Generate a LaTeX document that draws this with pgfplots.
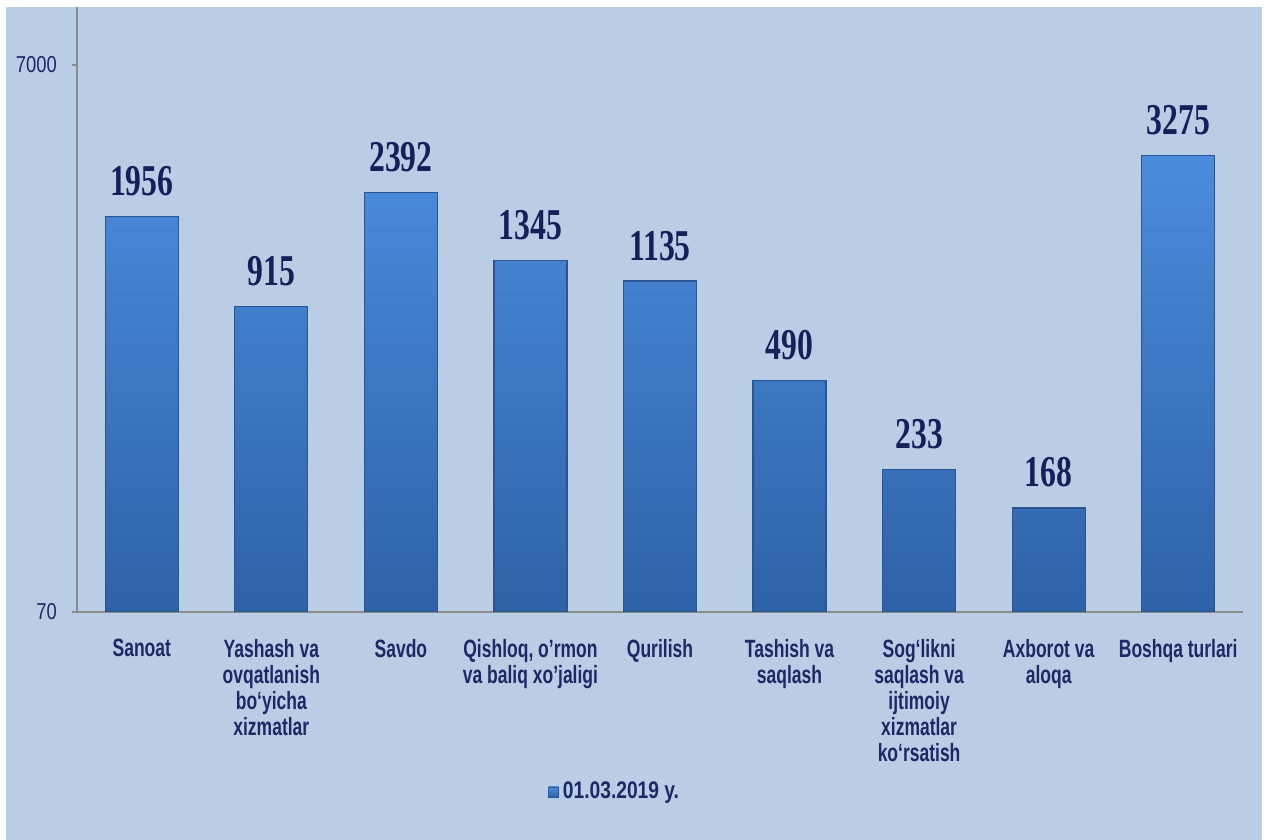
\documentclass[border=0pt]{standalone}
\usepackage{pgfplots}
\pgfplotsset{compat=1.18}
\usepackage{fontspec}
\setmainfont{Liberation Sans}
\newfontfamily\narrow[FakeStretch=0.8]{Liberation Sans}
\newfontfamily\xlabfont[FakeStretch=0.7]{Liberation Sans}
\newfontfamily\valfont[FakeStretch=0.72]{Liberation Serif}
\definecolor{bgblue}{HTML}{B9CDE4}
\definecolor{navy}{HTML}{1B2A66}
\definecolor{valnavy}{HTML}{14205A}
\definecolor{axgray}{HTML}{8C8C8C}
\definecolor{bartop}{HTML}{4A8CDC}
\definecolor{barbot}{HTML}{2E62A8}
\definecolor{baredge}{HTML}{2A5590}
\begin{document}
\begin{tikzpicture}
\useasboundingbox (-38.5pt,-114pt) rectangle (593.5pt,306pt);
\fill[white] (-38.5pt,-114pt) rectangle (593.5pt,306pt);
\fill[bgblue] (-35.5pt,-114pt) rectangle (592.5pt,302.5pt);
\begin{axis}[
  at={(0,0)}, anchor=south west, scale only axis,
  width=583pt, height=302.5pt,
  ymode=log, ymin=70, ymax=11400, log origin y=infty,
  xmin=-0.5, xmax=8.5,
  axis x line*=bottom, axis y line*=left,
  axis line style={draw=axgray, line width=0.8pt},
  tick align=outside,
  ytick={70,7000}, yticklabels={70,7000},
  yminorticks=false,
  major tick length=2.5pt,
  ytick style={draw=axgray, line width=0.6pt},
  yticklabel style={font=\narrow\fontsize{11.5}{13}\selectfont, text=navy, xshift=-4pt},
  xtick={0,...,8},
  xtick style={draw=none},
  minor xtick={-0.5,0.5,...,8.5},
  minor tick length=3.5pt,
  minor tick style={draw=axgray, line width=0.6pt},
  xticklabels={Sanoat,
    {Yashash va\\ovqatlanish\\bo‘yicha\\xizmatlar},
    Savdo,
    {Qishloq, o’rmon\\va baliq xo’jaligi},
    Qurilish,
    {Tashish va\\saqlash},
    {Sog‘likni\\saqlash va\\ijtimoiy\\xizmatlar\\ko‘rsatish},
    {Axborot va\\aloqa},
    Boshqa turlari},
  xticklabel style={align=center, font=\xlabfont\bfseries\fontsize{12.5}{13}\selectfont, text=navy, yshift=-7.5pt},
  point meta=explicit symbolic,
  nodes near coords={\pgfplotspointmeta},
  every node near coord/.append style={font=\valfont\bfseries\fontsize{22}{24}\selectfont, text=valnavy, anchor=south, inner sep=0pt, yshift=10pt},
  legend style={at={(0.462,0)}, anchor=center, yshift=-90pt, draw=none, fill=none,
    font=\narrow\bfseries\fontsize{12}{13}\selectfont, text=navy},
  legend image code/.code={\shade[top color=bartop, bottom color=barbot, draw=baredge, line width=0.3pt] (0pt,-2.5pt) rectangle (5pt,2.5pt);},
]
\addplot[ybar, bar width=36.5pt, bar shift=0pt, draw=baredge, line width=0.6pt,
  top color=bartop, bottom color=barbot]
coordinates {
(0,1956) [1956]
(1,915) [915]
(2,2392) [2392]
(3,1345) [1345]
(4,1135) [1135]
(5,490) [490]
(6,233) [233]
(7,168) [168]
(8,3275) [3275]
};
\addlegendentry{01.03.2019 y.}
\end{axis}
\end{tikzpicture}
\end{document}
